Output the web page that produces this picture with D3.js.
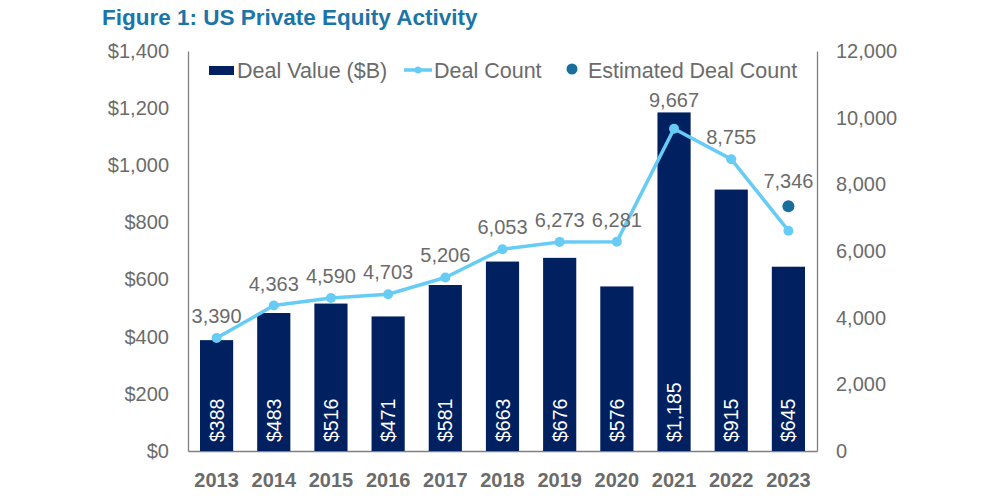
<!DOCTYPE html>
<html>
<head>
<meta charset="utf-8">
<script src="https://cdn.jsdelivr.net/npm/d3@7"></script>
<style>
  body { margin: 0; background: #fff; }
  text { font-family: "Liberation Sans", Arial, sans-serif; }
</style>
</head>
<body>
<div id="chart"></div>
<script>
// chart data
const years = ["2013", "2014", "2015", "2016", "2017", "2018", "2019", "2020", "2021", "2022", "2023"]
const dealValue = [388, 483, 516, 471, 581, 663, 676, 576, 1185, 915, 645]
const dealCount = [3390, 4363, 4590, 4703, 5206, 6053, 6273, 6281, 9667, 8755, 6610]
const countLabels = ["3,390", "4,363", "4,590", "4,703", "5,206", "6,053", "6,273", "6,281", "9,667", "8,755", null]
const estimatedYear = "2023"
const estimatedCount = 7346
const leftTicks = [0, 200, 400, 600, 800, 1000, 1200, 1400]
const rightTicks = [0, 2000, 4000, 6000, 8000, 10000, 12000]

const WIDTH = 1000
const HEIGHT = 500
const BAR_COLOR = "#002060"
const LINE_COLOR = "#66CCF5"
const EST_COLOR = "#1A6E9C"
const AXIS_COLOR = "#7f7f7f"
const TEXT_COLOR = "#6b6b6b"
const LEGEND_SIZE = 21.5

const plot = { left: 188, right: 817, top: 51, bottom: 451 }

const svg = d3.select("#chart").append("svg")
    .attr("width", WIDTH)
    .attr("height", HEIGHT)

// title
svg.append("text")
    .attr("x", 102)
    .attr("y", 25)
    .attr("fill", "#1B75A8")
    .attr("font-size", 22.5)
    .attr("font-weight", "bold")
    .text("Figure 1: US Private Equity Activity")

const x = d3.scaleBand()
    .domain(years)
    .range([plot.left, plot.right])
    .paddingInner(0.42)
    .paddingOuter(0.21)

const yLeft = d3.scaleLinear().domain([0, 1400]).range([plot.bottom, plot.top])
const yRight = d3.scaleLinear().domain([0, 12000]).range([plot.bottom, plot.top])

// axes
let leftAxis = svg.append("g")
    .attr("transform", "translate(" + plot.left + ",0)")
    .call(d3.axisLeft(yLeft).tickValues(leftTicks).tickSize(0).tickPadding(19)
        .tickFormat(d => "$" + d3.format(",")(d)))
let rightAxis = svg.append("g")
    .attr("transform", "translate(" + plot.right + ",0)")
    .call(d3.axisRight(yRight).tickValues(rightTicks).tickSize(0).tickPadding(19)
        .tickFormat(d3.format(",")))
let bottomAxis = svg.append("g")
    .attr("transform", "translate(0," + plot.bottom + ")")
    .call(d3.axisBottom(x).tickSize(0).tickPadding(22))

for (let ax of [leftAxis, rightAxis, bottomAxis]) {
    ax.select(".domain").attr("stroke", AXIS_COLOR).attr("stroke-width", 1.3)
    ax.selectAll("text")
        .attr("fill", TEXT_COLOR)
        .attr("font-size", 20)
        .attr("font-family", "Liberation Sans, Arial, sans-serif")
}
bottomAxis.selectAll("text").attr("font-weight", "bold").attr("dy", "0.71em")

// bars
svg.append("g").selectAll("rect")
    .data(years)
    .join("rect")
    .attr("x", d => x(d))
    .attr("y", (d, i) => yLeft(dealValue[i]))
    .attr("width", x.bandwidth())
    .attr("height", (d, i) => plot.bottom - yLeft(dealValue[i]))
    .attr("fill", BAR_COLOR)

// bar value labels, rotated
svg.append("g").selectAll("text")
    .data(years)
    .join("text")
    .attr("transform", d => "translate(" + (x(d) + x.bandwidth() / 2 + 7) + "," + (plot.bottom - 9) + ") rotate(-90)")
    .attr("fill", "white")
    .attr("font-size", 19.5)
    .text((d, i) => "$" + d3.format(",")(dealValue[i]))

// deal count line
const cx = d => x(d) + x.bandwidth() / 2
const line = d3.line()
    .x((d, i) => cx(years[i]))
    .y(d => yRight(d))

svg.append("path")
    .datum(dealCount)
    .attr("d", line)
    .attr("fill", "none")
    .attr("stroke", LINE_COLOR)
    .attr("stroke-width", 3.5)
    .attr("stroke-linejoin", "round")

svg.append("g").selectAll("circle")
    .data(dealCount)
    .join("circle")
    .attr("cx", (d, i) => cx(years[i]))
    .attr("cy", d => yRight(d))
    .attr("r", 5)
    .attr("fill", LINE_COLOR)

// count labels above points (kept clear of the bar top)
svg.append("g").selectAll("text")
    .data(dealCount)
    .join("text")
    .filter((d, i) => countLabels[i] != null)
    .attr("x", (d, i) => cx(years[i]))
    .attr("y", (d, i) => Math.min(yRight(d) - 15, yLeft(dealValue[i]) - 5))
    .attr("text-anchor", "middle")
    .attr("fill", TEXT_COLOR)
    .attr("font-size", 20)
    .text((d, i) => countLabels[i])

// estimated point
svg.append("circle")
    .attr("cx", cx(estimatedYear))
    .attr("cy", yRight(estimatedCount))
    .attr("r", 6)
    .attr("fill", EST_COLOR)
svg.append("text")
    .attr("x", cx(estimatedYear))
    .attr("y", yRight(estimatedCount) - 18)
    .attr("text-anchor", "middle")
    .attr("fill", TEXT_COLOR)
    .attr("font-size", 20)
    .text(d3.format(",")(estimatedCount))

// legend
let legend = svg.append("g").attr("transform", "translate(0,70)")
legend.append("rect")
    .attr("x", 209).attr("y", -4)
    .attr("width", 25).attr("height", 9)
    .attr("fill", BAR_COLOR)
legend.append("text")
    .attr("x", 237).attr("y", 7.5)
    .attr("fill", TEXT_COLOR).attr("font-size", LEGEND_SIZE)
    .text("Deal Value ($B)")
legend.append("line")
    .attr("x1", 404).attr("x2", 432)
    .attr("y1", 0).attr("y2", 0)
    .attr("stroke", LINE_COLOR).attr("stroke-width", 3.5)
legend.append("circle")
    .attr("cx", 418).attr("cy", 0).attr("r", 3.5)
    .attr("fill", LINE_COLOR)
legend.append("text")
    .attr("x", 434).attr("y", 7.5)
    .attr("fill", TEXT_COLOR).attr("font-size", LEGEND_SIZE)
    .text("Deal Count")
legend.append("circle")
    .attr("cx", 572).attr("cy", -1).attr("r", 5.5)
    .attr("fill", EST_COLOR)
legend.append("text")
    .attr("x", 588).attr("y", 7.5)
    .attr("fill", TEXT_COLOR).attr("font-size", LEGEND_SIZE)
    .text("Estimated Deal Count")
</script>
</body>
</html>
